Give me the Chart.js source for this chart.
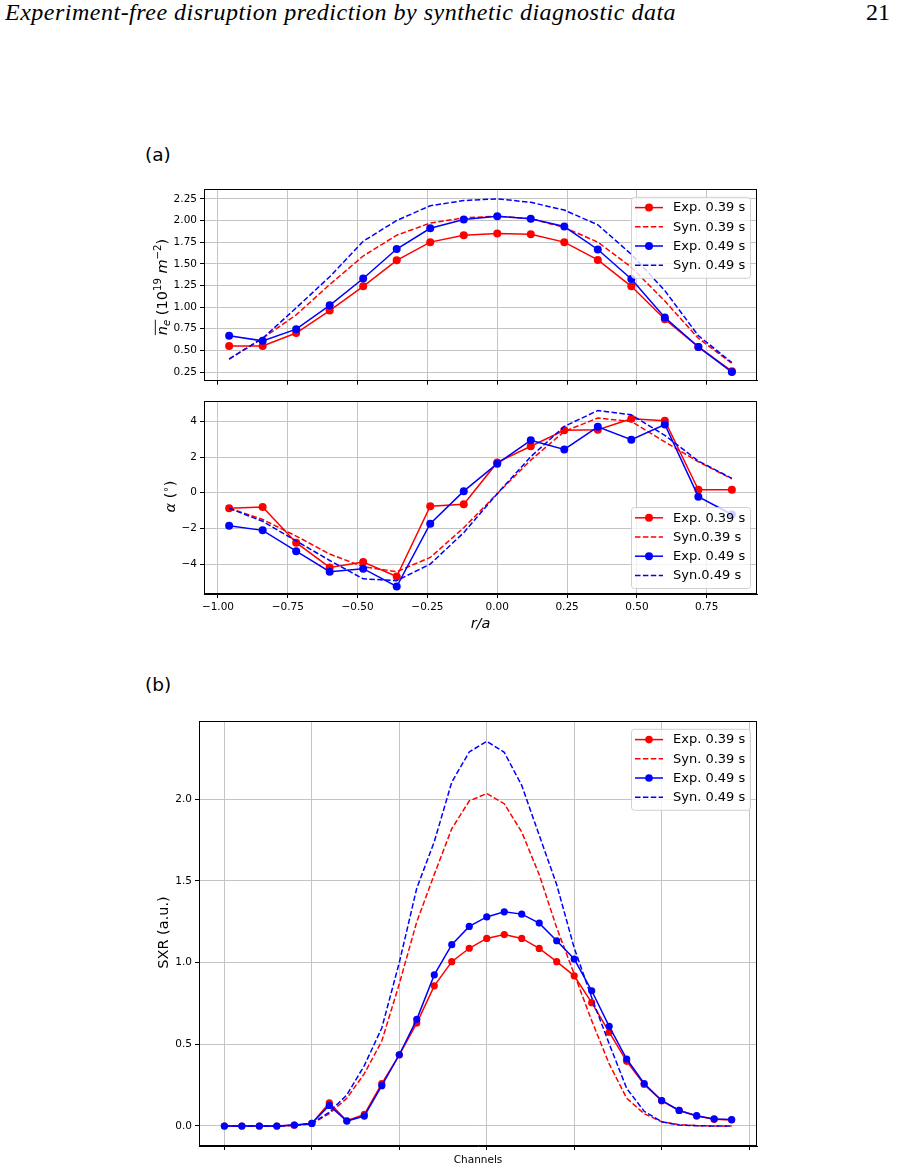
<!DOCTYPE html>
<html>
<head>
<meta charset="utf-8">
<script src="https://cdn.jsdelivr.net/npm/chart.js@4.4.0/dist/chart.umd.min.js"></script>
<style>
  body { margin: 0; background: #fff; width: 899px; height: 1169px; position: relative; overflow: hidden; }
  canvas { position: absolute; left: 0; }
  .hdr { position: absolute; top: 0; font-family: "Liberation Serif", "DejaVu Serif", serif; font-size: 24px; line-height: 24px; color: #000; white-space: nowrap; }
  .tag { position: absolute; left: 145px; font-family: "DejaVu Sans", sans-serif; font-size: 18.5px; line-height: 18.5px; color: #000; }
</style>
</head>
<body>
<div class="hdr" style="left:5px; font-style:italic; letter-spacing:0.5px;">Experiment-free disruption prediction by synthetic diagnostic data</div>
<div class="hdr" style="right:9px;">21</div>
<div class="tag" style="top:146px;">(a)</div>
<div class="tag" style="top:676px;">(b)</div>
<canvas id="c1" width="899" height="210" style="top:180px"></canvas>
<canvas id="c2" width="899" height="245" style="top:392px"></canvas>
<canvas id="c3" width="899" height="457" style="top:712px"></canvas>
<script>
// radial positions r/a of the interferometer / polarimeter chords
const rA = [-0.96, -0.84, -0.72, -0.60, -0.48, -0.36, -0.24, -0.12, 0.00, 0.12, 0.24, 0.36, 0.48, 0.60, 0.72, 0.84];
const rTicks = [-1.00, -0.75, -0.50, -0.25, 0.00, 0.25, 0.50, 0.75];

// line integrated density (10^19 m^-2)
const neExp039 = [0.55, 0.55, 0.70, 0.96, 1.24, 1.54, 1.75, 1.83, 1.85, 1.84, 1.75, 1.545, 1.24, 0.86, 0.54, 0.26];
const neSyn039 = [0.40, 0.64, 0.91, 1.26, 1.59, 1.83, 1.97, 2.03, 2.05, 2.02, 1.92, 1.75, 1.46, 1.07, 0.64, 0.35];
const neExp049 = [0.67, 0.61, 0.745, 1.02, 1.33, 1.67, 1.91, 2.01, 2.05, 2.02, 1.93, 1.665, 1.325, 0.88, 0.54, 0.25];
const neSyn049 = [0.40, 0.64, 0.99, 1.35, 1.76, 2.00, 2.17, 2.23, 2.25, 2.21, 2.12, 1.95, 1.61, 1.19, 0.67, 0.36];
const neTicks = [0.25, 0.50, 0.75, 1.00, 1.25, 1.50, 1.75, 2.00, 2.25];

// faraday rotation angle (deg)
const alExp039 = [-0.87, -0.80, -2.80, -4.19, -3.89, -4.70, -0.76, -0.65, 1.70, 2.61, 3.50, 3.54, 4.15, 4.04, 0.17, 0.17];
const alSyn039 = [-0.87, -1.50, -2.43, -3.44, -4.15, -4.43, -3.63, -1.96, -0.05, 1.83, 3.44, 4.19, 4.00, 2.85, 1.74, 0.78];
const alExp049 = [-1.85, -2.11, -3.28, -4.43, -4.26, -5.26, -1.74, 0.09, 1.63, 2.94, 2.43, 3.70, 2.98, 3.83, -0.22, -1.22];
const alSyn049 = [-0.87, -1.60, -2.70, -3.80, -4.83, -4.93, -4.00, -2.24, -0.05, 2.02, 3.72, 4.61, 4.37, 3.22, 1.78, 0.81];
const alTicks = [-4, -2, 0, 2, 4];

// soft x-ray channels
const channels = [0, 1, 2, 3, 4, 5, 6, 7, 8, 9, 10, 11, 12, 13, 14, 15, 16, 17, 18, 19, 20, 21, 22, 23, 24, 25, 26, 27, 28, 29];
const sxrExp039 = [0.0, 0.0, 0.0, 0.0, 0.005, 0.016, 0.142, 0.032, 0.071, 0.26, 0.436, 0.63, 0.858, 1.006, 1.088, 1.148, 1.172, 1.148, 1.087, 1.006, 0.919, 0.755, 0.574, 0.396, 0.254, 0.154, 0.095, 0.061, 0.041, 0.037];
const sxrSyn039 = [0.0, 0.0, 0.0, 0.0, 0.004, 0.014, 0.075, 0.17, 0.32, 0.52, 0.87, 1.25, 1.54, 1.82, 1.99, 2.035, 1.973, 1.80, 1.538, 1.213, 0.93, 0.645, 0.38, 0.17, 0.075, 0.026, 0.008, 0.002, 0.0, 0.0];
const sxrExp049 = [0.0, 0.0, 0.0, 0.0, 0.006, 0.016, 0.126, 0.030, 0.061, 0.247, 0.436, 0.653, 0.925, 1.11, 1.222, 1.280, 1.311, 1.297, 1.242, 1.134, 1.022, 0.828, 0.610, 0.410, 0.260, 0.156, 0.095, 0.063, 0.043, 0.039];
const sxrSyn049 = [0.0, 0.0, 0.0, 0.0, 0.004, 0.014, 0.085, 0.19, 0.37, 0.60, 1.00, 1.456, 1.74, 2.105, 2.29, 2.355, 2.288, 2.085, 1.78, 1.477, 1.09, 0.787, 0.503, 0.23, 0.09, 0.026, 0.006, 0.002, 0.0, 0.0];
const chanTicks = [0, 5, 10, 15, 20, 25, 30];
const sxrTicks = [0.0, 0.5, 1.0, 1.5, 2.0];

const labelsA = ['Exp. 0.39 s', 'Syn. 0.39 s', 'Exp. 0.49 s', 'Syn. 0.49 s'];
const labelsAlpha = ['Exp. 0.39 s', 'Syn.0.39 s', 'Exp. 0.49 s', 'Syn.0.49 s'];

const FONT = '"DejaVu Sans", sans-serif';
const RED = '#ff0000', BLUE = '#0000ff';
const DASH = [5.5, 2.4];
const minus = s => s.replace('-', '\u2212');

function makeSets(xs, labels, series, radius) {
  const colors = [RED, RED, BLUE, BLUE];
  return series.map((ys, i) => ({
    label: labels[i],
    data: xs.map((x, j) => ({ x: x, y: ys[j] })),
    borderColor: colors[i],
    backgroundColor: colors[i],
    borderWidth: 1.5,
    borderDash: i % 2 ? DASH : [],
    pointRadius: i % 2 ? 0 : radius,
    pointBorderWidth: 0,
    pointBackgroundColor: colors[i],
    tension: 0,
    order: 3 - i
  }));
}

function axis(min, max, ticks, fmt, fixed, showLabels) {
  const horizontal = fixed.h !== undefined;
  return {
    type: 'linear', min: min, max: max,
    afterBuildTicks: s => { s.ticks = ticks.map(v => ({ value: v })); },
    afterFit: s => { if (horizontal) s.height = fixed.h; else s.width = fixed.w; },
    grid: { color: '#c4c4c4', lineWidth: 1, drawTicks: true, tickLength: 4, tickColor: '#000' },
    border: { color: '#000', width: 1 },
    ticks: {
      display: showLabels, autoSkip: false, maxRotation: 0, padding: 3,
      color: '#000', font: { family: FONT, size: 10.5 },
      callback: v => fmt(v)
    }
  };
}

// draw a label made of pieces (italic, sub/superscript, overline), optionally rotated
function drawRich(ctx, segs, cx, cy, size, rotate) {
  const fontOf = s => (s.it ? 'italic ' : '') + ((s.sup || s.sub) ? size * 0.7 : size) + 'px ' + FONT;
  ctx.save();
  ctx.translate(cx, cy);
  if (rotate) ctx.rotate(-Math.PI / 2);
  let total = 0;
  segs.forEach(s => { ctx.font = fontOf(s); s.w = ctx.measureText(s.t).width; total += s.w; });
  let x = -total / 2;
  const base = size * 0.36;
  ctx.fillStyle = '#000';
  ctx.strokeStyle = '#000';
  ctx.textBaseline = 'alphabetic';
  segs.forEach(s => {
    ctx.font = fontOf(s);
    const dy = s.sup ? -size * 0.42 : s.sub ? size * 0.22 : 0;
    ctx.fillText(s.t, x, base + dy);
    if (s.over) {
      ctx.lineWidth = 0.9;
      ctx.beginPath();
      ctx.moveTo(x, base - size * 0.82);
      ctx.lineTo(x + s.w, base - size * 0.82);
      ctx.stroke();
    }
    x += s.w;
  });
  ctx.restore();
}

const deco = {
  id: 'deco',
  afterDraw(chart, args, o) {
    const ctx = chart.ctx, a = chart.chartArea;
    ctx.save();
    // full frame around the axes
    const l = Math.round(a.left) + 0.5, t = Math.round(a.top) + 0.5;
    const r = Math.round(a.right) - 0.5, b = Math.round(a.bottom) - 0.5;
    ctx.strokeStyle = '#000';
    ctx.lineWidth = 1;
    ctx.setLineDash([]);
    ctx.strokeRect(l, t, r - l, b - t);

    // legend
    const w = 119, h = 81;
    const bx = a.right - 7 - w;
    const by = o.legendAt === 'bottom' ? a.bottom - 6 - h : a.top + 7.5;
    ctx.fillStyle = 'rgba(255,255,255,0.8)';
    ctx.strokeStyle = 'rgba(204,204,204,0.9)';
    ctx.beginPath();
    ctx.roundRect(bx + 0.5, by + 0.5, w, h, 3);
    ctx.fill();
    ctx.stroke();
    chart.data.datasets.forEach((ds, i) => {
      const y = by + 10.8 + 19.2 * i;
      ctx.strokeStyle = ds.borderColor;
      ctx.lineWidth = 1.5;
      ctx.setLineDash(ds.borderDash);
      ctx.beginPath();
      ctx.moveTo(bx + 4, y);
      ctx.lineTo(bx + 32, y);
      ctx.stroke();
      ctx.setLineDash([]);
      if (ds.pointRadius > 0) {
        ctx.fillStyle = ds.borderColor;
        ctx.beginPath();
        ctx.arc(bx + 18, y, o.legendDot, 0, Math.PI * 2);
        ctx.fill();
      }
      ctx.fillStyle = '#000';
      ctx.font = '13px ' + FONT;
      ctx.textBaseline = 'middle';
      ctx.fillText(ds.label, bx + 42, y + 0.5);
    });

    // axis titles
    if (o.yTitle) drawRich(ctx, o.yTitle.segs, o.yTitle.x, o.yTitle.y, o.yTitle.size, true);
    if (o.xTitle) drawRich(ctx, o.xTitle.segs, o.xTitle.x, o.xTitle.y, o.xTitle.size, false);
    ctx.restore();
  }
};

function baseOptions(pad, scales, decoOpts) {
  return {
    responsive: false, animation: false, devicePixelRatio: 1,
    layout: { padding: pad },
    scales: scales,
    plugins: { legend: { display: false }, tooltip: { enabled: false }, deco: decoOpts }
  };
}

// (a) upper: line integrated density
new Chart(document.getElementById('c1'), {
  type: 'line',
  data: { datasets: makeSets(rA, labelsA, [neExp039, neSyn039, neExp049, neSyn049], 4) },
  options: baseOptions({ left: 130, right: 142, top: 7, bottom: 0 }, {
    x: axis(-1.05, 0.93, rTicks, v => minus(v.toFixed(2)), { h: 7 }, false),
    y: axis(0.15, 2.36, neTicks, v => v.toFixed(2), { w: 74 }, true)
  }, {
    legendAt: 'top', legendDot: 4,
    yTitle: { x: 162, y: 107, size: 14.5, segs: [
      { t: 'n', it: true, over: true }, { t: 'e', it: true, sub: true, over: true },
      { t: ' (10' }, { t: '19', sup: true }, { t: ' ' }, { t: 'm', it: true }, { t: '\u22122', sup: true }, { t: ')' }
    ] }
  }),
  plugins: [deco]
});

// (a) lower: faraday rotation angle
new Chart(document.getElementById('c2'), {
  type: 'line',
  data: { datasets: makeSets(rA, labelsAlpha, [alExp039, alSyn039, alExp049, alSyn049], 4) },
  options: baseOptions({ left: 130, right: 142, top: 7, bottom: 0 }, {
    x: axis(-1.05, 0.93, rTicks, v => minus(v.toFixed(2)), { h: 43 }, true),
    y: axis(-5.68, 5.13, alTicks, v => minus(String(v)), { w: 74 }, true)
  }, {
    legendAt: 'bottom', legendDot: 4,
    yTitle: { x: 170, y: 104.5, size: 14.5, segs: [
      { t: '\u03b1', it: true }, { t: ' (' }, { t: '\u2218', sup: true }, { t: ')' }
    ] },
    xTitle: { x: 480.5, y: 231, size: 14.5, segs: [{ t: 'r', it: true }, { t: '/', it: true }, { t: 'a', it: true }] }
  }),
  plugins: [deco]
});

// (b) soft x-ray profile
new Chart(document.getElementById('c3'), {
  type: 'line',
  data: { datasets: makeSets(channels, labelsA, [sxrExp039, sxrSyn039, sxrExp049, sxrSyn049], 3.6) },
  options: baseOptions({ left: 130, right: 142, top: 7, bottom: 0 }, {
    x: axis(-1.45, 30.45, chanTicks, v => String(v), { h: 23 }, false),
    y: axis(-0.1225, 2.4775, sxrTicks, v => v.toFixed(1), { w: 69 }, true)
  }, {
    legendAt: 'top', legendDot: 3.8,
    yTitle: { x: 163, y: 220.5, size: 14.5, segs: [{ t: 'SXR (a.u.)' }] },
    xTitle: { x: 478, y: 447, size: 10.5, segs: [{ t: 'Channels' }] }
  }),
  plugins: [deco]
});
</script>
</body>
</html>
